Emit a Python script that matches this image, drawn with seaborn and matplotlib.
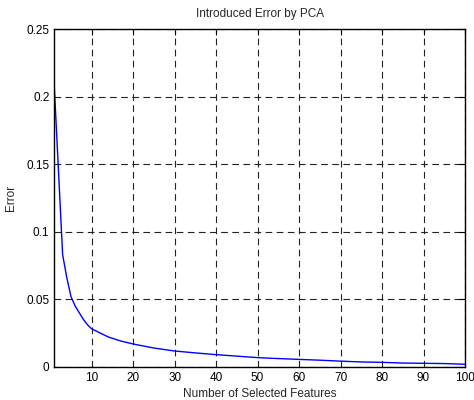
import seaborn as sns
import matplotlib.pyplot as plt
import pandas as pd

# values
n_features = [1, 2, 3, 4, 5, 6, 7, 8, 9, 10, 12, 14, 17, 20, 25, 30, 35, 40,
              45, 50, 55, 60, 65, 70, 75, 80, 85, 90, 95, 100]
error = [0.207, 0.145, 0.083, 0.066, 0.052, 0.045, 0.040, 0.035, 0.031, 0.028,
         0.025, 0.022, 0.019, 0.0168, 0.0138, 0.0116, 0.0102, 0.0089,
         0.0078, 0.0067, 0.0060, 0.0054, 0.0048, 0.0041, 0.0035, 0.0032,
         0.0027, 0.0025, 0.0023, 0.0018]

x_ticks = [10, 20, 30, 40, 50, 60, 70, 80, 90, 100]
y_ticks = [0, 0.05, 0.1, 0.15, 0.2, 0.25]
y_labels = ["0", "0.05", "0.1", "0.15", "0.2", "0.25"]

df = pd.DataFrame({"Features": n_features, "Error": error})

sns.set_style("white")
plt.rcParams['font.family'] = ['Liberation Sans', 'DejaVu Sans']
plt.rcParams['font.size'] = 8.5

fig = plt.figure(figsize=(4.74, 4.0), dpi=100)
ax = fig.add_axes([0.1146, 0.0833, 0.8664, 0.8442])

sns.lineplot(data=df, x="Features", y="Error", color="blue", linewidth=1.0, ax=ax)

ax.set_xlim(1, 100)
ax.set_ylim(0, 0.25)
ax.set_xticks(x_ticks)
ax.set_yticks(y_ticks)
ax.set_yticklabels(y_labels)
ax.grid(True, color="#222222", linestyle=(0, (6, 4)), linewidth=0.8)
ax.tick_params(direction="in", length=4, top=True, right=True, colors="black",
               labelsize=8.5, width=0.8)
for s in ax.spines.values():
    s.set_color("black")
    s.set_linewidth(1.0)

ax.set_xlabel("Number of Selected Features", fontsize=8.5, labelpad=3)
ax.set_ylabel("Error", fontsize=8.5, labelpad=7)
ax.set_title("Introduced Error by PCA", fontsize=8.5, pad=9)

plt.savefig("out.png", dpi=100)
